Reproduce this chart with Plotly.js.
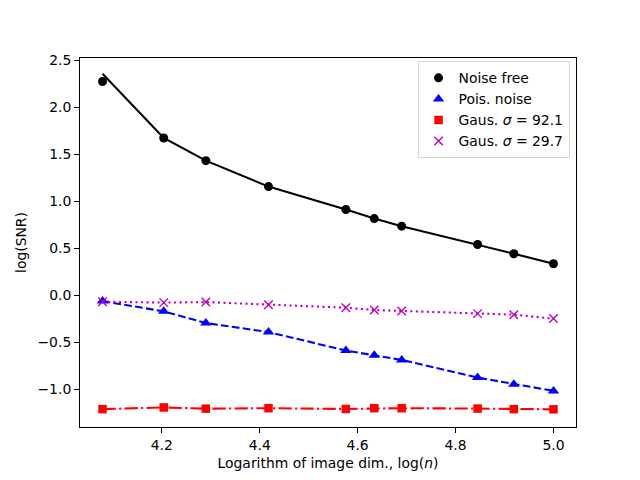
<!DOCTYPE html>
<html>
<head>
<meta charset="utf-8">
<script src="https://cdn.plot.ly/plotly-3.0.1.min.js"></script>
<style>html,body{margin:0;padding:0;background:#fff;}#chart{width:640px;height:480px;}</style>
</head>
<body>
<div id="chart"></div>
<script>
// x values: logarithm of image dimension
const logN = [4.079, 4.204, 4.290, 4.418, 4.576, 4.634, 4.690, 4.845, 4.919, 5.000];

// series values (markers)
const noiseFree = [2.275, 1.674, 1.433, 1.157, 0.913, 0.817, 0.736, 0.541, 0.443, 0.337];
const poisNoise = [-0.061, -0.170, -0.294, -0.390, -0.587, -0.637, -0.687, -0.874, -0.945, -1.016];
const gaus921   = [-1.210, -1.192, -1.205, -1.200, -1.208, -1.200, -1.200, -1.204, -1.210, -1.212];
const gaus297   = [-0.067, -0.077, -0.071, -0.099, -0.131, -0.156, -0.167, -0.194, -0.205, -0.247];

// fitted lines
const noiseFreeFit = [2.357, 1.674, 1.433, 1.157, 0.913, 0.817, 0.736, 0.541, 0.443, 0.337];
const poisFit  = poisNoise;
const gaus921Fit = gaus921;
const gaus297Fit = gaus297;

const labels = ['Noise free', 'Pois. noise', 'Gaus. <i>σ</i> = 92.1', 'Gaus. <i>σ</i> = 29.7'];
const xTicks = [4.2, 4.4, 4.6, 4.8, 5.0];
const yTicks = [-1.0, -0.5, 0.0, 0.5, 1.0, 1.5, 2.0, 2.5];

const FONT = 'DejaVu Sans, sans-serif';

const traces = [
  {x: logN, y: noiseFreeFit, mode: 'lines', line: {color: '#000000', width: 2.1}, showlegend: false, hoverinfo: 'skip'},
  {x: logN, y: noiseFree, mode: 'markers', name: labels[0], marker: {symbol: 'circle', size: 9, color: '#000000'}},
  {x: logN, y: poisFit, mode: 'lines', line: {color: '#0000ff', width: 2.1, dash: '7.7px,3.3px'}, showlegend: false, hoverinfo: 'skip'},
  {x: logN, y: poisNoise, mode: 'markers', name: labels[1], marker: {symbol: 'triangle-up', size: 10, color: '#0000ff'}},
  {x: logN, y: gaus921Fit, mode: 'lines', line: {color: '#ff0000', width: 2.1, dash: '13.3px,3.3px,2.1px,3.3px'}, showlegend: false, hoverinfo: 'skip'},
  {x: logN, y: gaus921, mode: 'markers', name: labels[2], marker: {symbol: 'square', size: 8.5, color: '#ff0000'}},
  {x: logN, y: gaus297Fit, mode: 'lines', line: {color: '#bf00bf', width: 2.1, dash: '2.1px,3.4px'}, showlegend: false, hoverinfo: 'skip'},
  {x: logN, y: gaus297, mode: 'markers', name: labels[3], marker: {symbol: 'x-thin-open', size: 8.5, color: '#bf00bf', line: {color: '#bf00bf', width: 1.4}}}
];

const layout = {
  width: 640, height: 480,
  margin: {l: 80, r: 64, t: 58, b: 53, pad: 0},
  paper_bgcolor: '#ffffff', plot_bgcolor: '#ffffff',
  font: {family: FONT, size: 13.9, color: '#000000'},
  showlegend: true,
  legend: {
    x: 0.987, y: 0.991, xanchor: 'right', yanchor: 'top',
    bgcolor: 'rgba(255,255,255,0.8)', bordercolor: '#d6d6d6', borderwidth: 1,
    font: {family: FONT, size: 13.9, color: '#000000'},
    tracegroupgap: 0
  },
  xaxis: {
    range: [4.033, 5.046],
    tickvals: xTicks, tickformat: '.1f',
    ticks: 'outside', ticklen: 4.9, tickwidth: 1.1, tickcolor: '#000',
    showline: true, linecolor: '#000', linewidth: 1.1, mirror: true,
    showgrid: false, zeroline: false,
    tickfont: {family: FONT, size: 13.9},
    title: {text: 'Logarithm of image dim., log(<i>n</i>)', font: {family: FONT, size: 13.9}, standoff: 6}
  },
  yaxis: {
    range: [-1.40, 2.525],
    tickvals: yTicks, tickformat: '.1f',
    ticks: 'outside', ticklen: 4.9, tickwidth: 1.1, tickcolor: '#000',
    showline: true, linecolor: '#000', linewidth: 1.1, mirror: true,
    showgrid: false, zeroline: false,
    tickfont: {family: FONT, size: 13.9},
    title: {text: 'log(SNR)', font: {family: FONT, size: 13.9}, standoff: 7}
  }
};

Plotly.newPlot('chart', traces, layout, {staticPlot: true, displayModeBar: false});
</script>
</body>
</html>
